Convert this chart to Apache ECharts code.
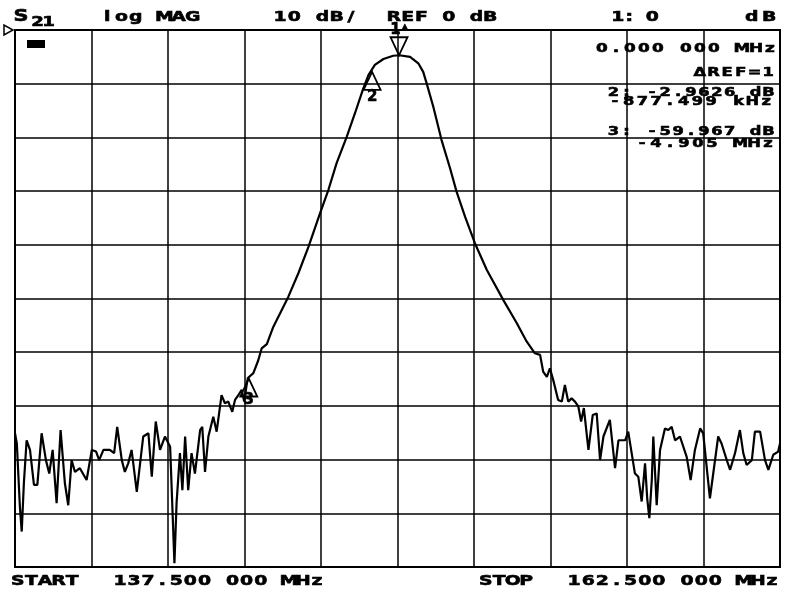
<!DOCTYPE html>
<html><head><meta charset="utf-8">
<script src="https://cdn.jsdelivr.net/npm/echarts@6/dist/echarts.min.js"></script>
<style>html,body{margin:0;padding:0;background:#fff}#c{width:800px;height:600px}</style>
</head><body><div id="c"></div>
<script>
// Trace: frequency (MHz) and S21 magnitude (dB)
const freqMHz = [
137.50,137.56,137.66,137.72,137.79,137.88,137.99,138.12,138.23,138.37,138.51,138.62,138.73,138.86,138.99,139.13,139.24,139.35,139.46,139.62,
139.84,140.01,140.15,140.25,140.39,140.60,140.74,140.84,140.99,141.09,141.20,141.31,141.48,141.69,141.86,141.97,142.10,142.24,142.40,142.57,
142.71,142.78,142.89,142.97,143.06,143.16,143.27,143.38,143.55,143.62,143.71,143.82,143.98,144.09,144.25,144.36,144.47,144.60,144.69,144.80,
144.91,144.99,145.07,145.11,145.29,145.45,145.56,145.73,145.94,146.16,146.43,146.76,147.09,147.47,147.74,148.01,148.34,148.61,148.88,149.05,
149.26,149.54,149.86,150.06,150.41,150.68,150.84,150.95,151.17,151.44,151.72,151.93,152.21,152.53,152.92,153.46,153.90,154.22,154.49,154.66,
154.76,154.88,154.98,155.09,155.25,155.37,155.47,155.58,155.69,155.80,155.91,156.00,156.09,156.24,156.38,156.51,156.62,156.73,156.94,157.11,
157.22,157.44,157.54,157.76,157.87,157.98,158.09,158.16,158.23,158.31,158.36,158.47,158.58,158.74,158.85,158.96,159.07,159.23,159.45,159.58,
159.72,159.89,159.99,160.21,160.48,160.59,160.76,160.87,161.03,161.19,161.30,161.41,161.58,161.68,161.85,162.01,162.12,162.28,162.44,162.50
];
const magDb = [
-75.1,-77.0,-88.8,-93.4,-84.4,-76.4,-78.2,-84.7,-84.7,-75.1,-80.1,-82.6,-78.2,-88.1,-74.5,-84.4,-88.5,-80.1,-82.3,-81.6,
-83.8,-78.2,-78.5,-80.1,-78.2,-78.2,-78.8,-73.9,-80.1,-82.3,-80.7,-78.2,-86.0,-75.7,-75.1,-83.2,-72.9,-78.2,-75.7,-77.6,
-99.3,-88.1,-78.8,-85.7,-75.7,-85.7,-78.8,-82.6,-74.5,-73.9,-82.3,-75.7,-72.0,-74.8,-68.0,-69.5,-69.2,-71.1,-68.9,-68.0,
-67.0,-69.2,-66.1,-64.8,-63.9,-61.5,-59.3,-58.5,-55.3,-52.8,-49.7,-45.3,-40.4,-34.1,-29.8,-24.8,-19.9,-15.5,-10.9,-8.4,
-6.5,-5.4,-4.8,-4.7,-5.0,-6.2,-7.8,-9.9,-14.3,-20.5,-25.8,-30.1,-34.8,-39.7,-44.7,-50.3,-54.6,-58.0,-60.2,-60.5,
-63.6,-64.6,-63.0,-65.2,-68.9,-69.2,-66.1,-69.2,-68.6,-69.2,-70.1,-72.9,-70.4,-78.2,-71.7,-71.4,-80.1,-75.7,-72.6,-81.6,
-76.4,-76.4,-74.8,-82.6,-83.2,-87.8,-80.7,-87.2,-90.9,-83.8,-75.7,-88.5,-78.2,-74.2,-74.5,-73.9,-76.4,-75.7,-79.5,-83.8,
-78.2,-74.2,-75.1,-87.2,-75.7,-77.0,-80.1,-81.9,-78.8,-74.5,-78.8,-81.0,-80.1,-74.8,-74.8,-80.1,-81.9,-79.1,-78.5,-77.0
];
// Markers
const markerNames = ['1', '2', '3'];
const markerFreq = [150.05, 149.17, 145.14];
const markerDb = [-4.7, -7.8, -64.9];
// Axis range
const xRange = [137.5, 162.5], xStep = 2.5;
const yRange = [-100, 0], yStep = 10;
// Annotation texts
const headerTexts = ['S', '21', 'log MAG', '10 dB/', 'REF 0 dB', '1: 0', 'dB'];
const markerTexts = ['0.000 000 MHz', '\u0394REF=1', '2: -2.9626 dB', '-877.499 kHz', '3: -59.967 dB', '-4.905 MHz'];
const footerTexts = ['START', '137.500 000 MHz', 'STOP', '162.500 000 MHz'];

const FONT = '"DejaVu Sans"';
// plotter-style monospaced text: each glyph centred in a fixed-width cell
function T(str, x, y, size, w, sx) {
  const cell = w / str.length;
  const children = [];
  for (let i = 0; i < str.length; i++) {
    const ch = str[i];
    if (ch === ' ') continue;
    children.push({
      type: 'text', x: x + cell * (i + 0.5), y: y, scaleX: sx || 1.3,
      style: { text: ch, x: 0, y: 0, font: 'bold ' + size + 'px ' + FONT, fill: '#000', stroke: '#000', lineWidth: 0.6, verticalAlign: 'middle', align: 'center' }
    });
  }
  return { type: 'group', z: 100, children: children };
}

const chart = echarts.init(document.getElementById('c'), null, { renderer: 'canvas' });
const data = freqMHz.map((f, i) => [f, magDb[i]]);
const mp = markerNames.map((n, i) => {
  const down = i === 0;
  return {
    name: n, coord: [markerFreq[i], markerDb[i]],
    symbol: 'triangle', symbolSize: [17, 18], symbolRotate: down ? 180 : 0,
    symbolOffset: [0, down ? -9 : 9],
    label: {
      show: true, position: down ? 'top' : 'bottom', distance: down ? -1 : (i === 2 ? -5 : -1),
      formatter: down ? '1{d|\u25B2}' : n,
      color: '#000', fontFamily: FONT, fontWeight: 'bold', fontSize: 15,
      textBorderColor: '#000', textBorderWidth: 0.6,
      rich: { d: { fontSize: 8, color: '#000', padding: [0, 0, 6, 1] } }
    }
  };
});

chart.setOption({
  animation: false,
  backgroundColor: '#fff',
  grid: { left: 15, right: 20, top: 30, bottom: 33, show: true, borderColor: '#000', borderWidth: 2, backgroundColor: 'transparent' },
  xAxis: {
    type: 'value', min: xRange[0], max: xRange[1], interval: xStep,
    axisLabel: { show: false }, axisTick: { show: false }, axisLine: { show: false },
    splitLine: { show: true, lineStyle: { color: '#000', width: 1.5 } }
  },
  yAxis: {
    type: 'value', min: yRange[0], max: yRange[1], interval: yStep,
    axisLabel: { show: false }, axisTick: { show: false }, axisLine: { show: false },
    splitLine: { show: true, lineStyle: { color: '#000', width: 1.5 } }
  },
  series: [{
    type: 'line', data: data, showSymbol: false, smooth: false,
    lineStyle: { color: '#000', width: 2.2 },
    markPoint: {
      data: mp,
      itemStyle: { color: 'rgba(0,0,0,0)', borderColor: '#000', borderWidth: 1.8 }
    }
  }],
  graphic: [
    T(headerTexts[0], 14, 16.5, 16, 14),
    T(headerTexts[1], 32, 22, 14, 22),
    T(headerTexts[2], 100, 17, 14.5, 100),
    T(headerTexts[3], 273, 17, 14.5, 85),
    T(headerTexts[4], 387, 17, 14.5, 110),
    T(headerTexts[5], 612, 17, 14.5, 46),
    T(headerTexts[6], 743, 17, 14.5, 35),
    T(markerTexts[0], 595, 49, 13, 182),
    T(markerTexts[1], 693, 72.5, 12.5, 82),
    T(markerTexts[2], 607, 92.5, 12.5, 168),
    T(markerTexts[3], 608, 101.5, 12.5, 165),
    T(markerTexts[4], 607, 132, 12.5, 168),
    T(markerTexts[5], 635, 144, 12.5, 140),
    T(footerTexts[0], 11, 581, 14.5, 68),
    T(footerTexts[1], 113, 581, 14.5, 211),
    T(footerTexts[2], 479, 581, 14.5, 54),
    T(footerTexts[3], 567, 581, 14.5, 212),
    { type: 'polygon', z: 100, shape: { points: [[4, 25], [4, 35], [13, 30]] }, style: { fill: '#fff', stroke: '#000', lineWidth: 1.5 } },
    { type: 'rect', z: 100, shape: { x: 27, y: 40, width: 18, height: 8 }, style: { fill: '#000' } }
  ]
});
</script>
</body></html>
